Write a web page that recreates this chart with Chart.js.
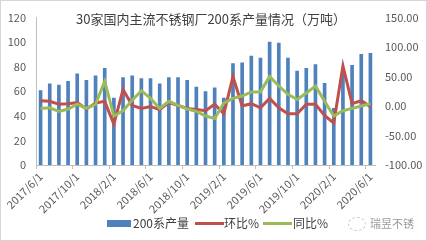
<!DOCTYPE html>
<html>
<head>
<meta charset="utf-8">
<script src="https://cdn.jsdelivr.net/npm/chart.js@4.4.0/dist/chart.umd.min.js"></script>
<style>
    body { margin: 0; background: #fff; }
    #wrap {
        position: relative; width: 427px; height: 241px; box-sizing: border-box;
        border: 1px solid #d6d6d6; overflow: hidden;
        font-family: "Noto Sans CJK SC", sans-serif; color: #404040;
    }
    #chart { position: absolute; left: 0; top: 0; }
    #title {
        position: absolute; top: 10px; left: 0; width: 420px; text-align: center;
        font-size: 13px; line-height: 16px; color: #404040; white-space: nowrap;
    }
    .lg { position: absolute; }
    .lg-text { position: absolute; top: 214px; font-size: 12px; line-height: 16px; color: #404040; white-space: nowrap; }
</style>
</head>
<body>
<div id="wrap">
    <canvas id="chart" width="425" height="239"></canvas>
    <div id="title">30家国内主流不锈钢厂200系产量情况（万吨）</div>
    <!-- legend -->
    <div class="lg" style="left:106px; top:219px; width:24px; height:7px; background:#4f81bd;"></div>
    <div class="lg-text" style="left:132px;">200系产量</div>
    <div class="lg" style="left:194px; top:221px; width:29px; height:3px; background:#c0504d;"></div>
    <div class="lg-text" style="left:223px;">环比%</div>
    <div class="lg" style="left:262px; top:221px; width:29px; height:3px; background:#9bbb59;"></div>
    <div class="lg-text" style="left:292px;">同比%</div>
    <!-- watermark -->
    <div class="lg" style="left:347px; top:216px; width:16px; height:12px; border:1px dashed #c8c8c8; border-radius:50%;"></div>
    <div class="lg-text" style="left:369px; font-size:11px; color:#9a9a9a;">瑞昱不锈</div>
</div>
<script>
// Categories (monthly, 2017/6 - 2020/6)
const monthLabels = [
    '2017/6/1', '2017/7/1', '2017/8/1', '2017/9/1', '2017/10/1', '2017/11/1', '2017/12/1',
    '2018/1/1', '2018/2/1', '2018/3/1', '2018/4/1', '2018/5/1', '2018/6/1', '2018/7/1',
    '2018/8/1', '2018/9/1', '2018/10/1', '2018/11/1', '2018/12/1', '2019/1/1', '2019/2/1',
    '2019/3/1', '2019/4/1', '2019/5/1', '2019/6/1', '2019/7/1', '2019/8/1', '2019/9/1',
    '2019/10/1', '2019/11/1', '2019/12/1', '2020/1/1', '2020/2/1', '2020/3/1', '2020/4/1',
    '2020/5/1', '2020/6/1'
];

// 200系产量 (万吨)
const output200 = [
    60.8, 66.3, 65.3, 68.4, 74.4, 69.1, 72.9, 79.0, 54.7, 71.4,
    72.9, 70.6, 70.6, 66.3, 71.4, 71.4, 69.1, 63.8, 60.0, 63.0,
    54.7, 82.8, 83.5, 88.9, 87.3, 100.3, 99.5, 87.3, 76.7, 79.0,
    82.0, 66.8, 46.5, 77.0, 81.5, 90.4, 91.1
];

// 环比% (month on month)
const momPct = [
    9, 8, 3, 4, 6, -5, 5, 8, -31, 28,
    1, -4, -1, -6, 6, 1, -4, -6, -8, 3,
    -13, 50, 0, 4, -3, 13, -3, -13, -13, 3,
    3, -16, -29, 68, 4, 9, -1
];

// 同比% (year on year)
const yoyPct = [
    -4, -3, -9, -5, 3, -4, 3, 42, -17, -8,
    10, 26, 13, -4, 8, 1, -5, -9, -17, -21,
    5, 13, 17, 24, 24, 50, 34, 20, 11, 22,
    34, 8, -17, -8, -4, 0, 4
];

// Axis ranges
const leftAxis = { min: 0, max: 120, step: 20 };
const rightAxis = { min: -100, max: 150, step: 50 };

const tickFont = { family: '"Noto Sans CJK SC", sans-serif', size: 11 };
const tickColor = '#595959';
const axisLine = '#bfbfbf';

new Chart(document.getElementById('chart').getContext('2d'), {
    data: {
        labels: monthLabels,
        datasets: [
            {
                type: 'bar',
                label: '200系产量',
                data: output200,
                yAxisID: 'y',
                backgroundColor: '#4f81bd',
                barPercentage: 0.4,
                categoryPercentage: 1,
                order: 3
            },
            {
                type: 'line',
                label: '环比%',
                data: momPct,
                yAxisID: 'y1',
                borderColor: '#c0504d',
                borderWidth: 3,
                pointRadius: 0,
                tension: 0,
                order: 2
            },
            {
                type: 'line',
                label: '同比%',
                data: yoyPct,
                yAxisID: 'y1',
                borderColor: '#9bbb59',
                borderWidth: 3,
                pointRadius: 0,
                tension: 0,
                order: 1
            }
        ]
    },
    options: {
        responsive: false,
        animation: false,
        devicePixelRatio: 1,
        layout: { padding: { top: 6, bottom: 0, left: 0, right: 0 } },
        plugins: {
            legend: { display: false },
            title: { display: false },
            tooltip: { enabled: false }
        },
        scales: {
            x: {
                offset: true,
                grid: {
                    display: true,
                    drawOnChartArea: false,
                    drawTicks: true,
                    tickLength: 4,
                    offset: true,
                    color: ctx => (ctx.index % 4 === 0 ? axisLine : 'rgba(0,0,0,0)')
                },
                border: { display: true, color: axisLine },
                ticks: {
                    autoSkip: false,
                    maxRotation: 45,
                    minRotation: 45,
                    padding: 1,
                    font: tickFont,
                    color: tickColor,
                    callback: function(value, index) {
                        return index % 4 === 0 ? monthLabels[index] : '';
                    }
                },
                afterFit: scale => { scale.height = 75; }
            },
            y: {
                position: 'left',
                min: leftAxis.min,
                max: leftAxis.max,
                grid: { display: false, drawTicks: false },
                border: { display: true, color: axisLine },
                ticks: { stepSize: leftAxis.step, padding: 10, font: tickFont, color: tickColor },
                afterFit: scale => { scale.width = 35; }
            },
            y1: {
                position: 'right',
                min: rightAxis.min,
                max: rightAxis.max,
                grid: { display: false, drawTicks: false },
                border: { display: false },
                ticks: {
                    stepSize: rightAxis.step,
                    padding: 10,
                    font: tickFont,
                    color: tickColor,
                    callback: v => v.toFixed(2)
                },
                afterFit: scale => { scale.width = 51; }
            }
        }
    }
});
</script>
</body>
</html>
